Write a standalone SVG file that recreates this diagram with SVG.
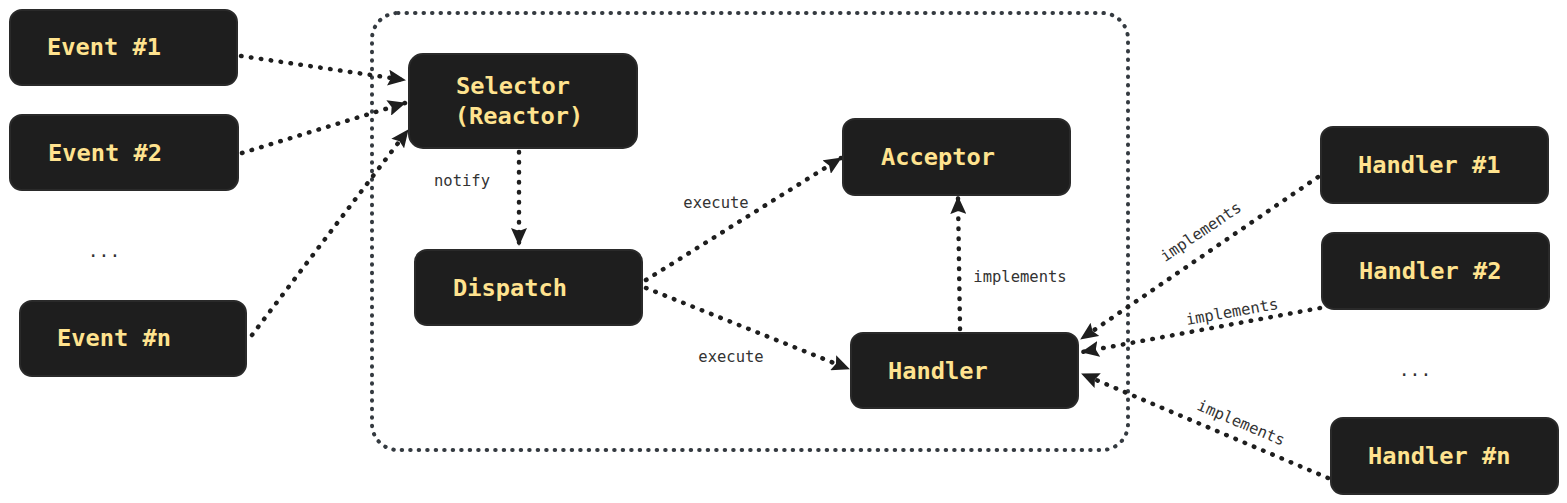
<svg xmlns="http://www.w3.org/2000/svg" width="1567" height="503" viewBox="0 0 1567 503">
<defs>
<style>
.node rect{fill:#1e1e1e;stroke:#2a2a2a;stroke-width:2}
.node text{font-family:"DejaVu Sans Mono","Liberation Mono",monospace;font-weight:bold;font-size:23.7px;fill:#ffe38f}
.conn path{fill:none;stroke:#1e1e1e;stroke-width:4.5;stroke-linecap:round;stroke-dasharray:0.5 9.5}
.lbl{font-family:"DejaVu Sans Mono","Liberation Mono",monospace;font-size:15.5px;fill:#333}
.dots{font-family:"DejaVu Sans Mono","Liberation Mono",monospace;font-size:18px;fill:#333}
</style>
<marker id="ah" viewBox="0 0 18 16" refX="17" refY="8" markerWidth="18" markerHeight="16" markerUnits="userSpaceOnUse" orient="auto">
<path d="M0,0 L18,8 L0,16 L3,8 Z" fill="#1e1e1e"/>
</marker>
</defs>
<rect width="1567" height="503" fill="#ffffff"/>
<g id="container">
<rect x="372" y="13" width="756" height="437" rx="26" fill="none" stroke="#343a40" stroke-width="4" stroke-linecap="round" stroke-dasharray="0.5 8"/>
</g>
<g class="conn" id="connectors">
<path d="M241,56 L405,80" marker-end="url(#ah)"/>
<path d="M242,153 L405,103" marker-end="url(#ah)"/>
<path d="M252,335 L408,130" marker-end="url(#ah)"/>
<path d="M519,152 L519,245" marker-end="url(#ah)"/>
<path d="M646,280 L841,158" marker-end="url(#ah)"/>
<path d="M646,288 L849,369" marker-end="url(#ah)"/>
<path d="M960,329 L958,197" marker-end="url(#ah)"/>
<path d="M1318,177 L1081,339" marker-end="url(#ah)"/>
<path d="M1320,308 L1082,352" marker-end="url(#ah)"/>
<path d="M1328,478 L1082,374" marker-end="url(#ah)"/>
</g>
<g id="labels">
<text class="lbl" x="462" y="186" text-anchor="middle">notify</text>
<text class="lbl" x="716" y="208" text-anchor="middle">execute</text>
<text class="lbl" x="731" y="362" text-anchor="middle">execute</text>
<text class="lbl" x="1020" y="282" text-anchor="middle">implements</text>
<text class="lbl" x="0" y="5" text-anchor="middle" transform="translate(1201,232) rotate(-34)">implements</text>
<text class="lbl" x="0" y="5" text-anchor="middle" transform="translate(1232,312) rotate(-10)">implements</text>
<text class="lbl" x="0" y="5" text-anchor="middle" transform="translate(1241,423) rotate(23)">implements</text>
<text class="dots" x="104" y="257" text-anchor="middle">...</text>
<text class="dots" x="1415" y="376" text-anchor="middle">...</text>
</g>
<g class="node" id="event1"><rect x="10" y="10" width="227" height="75" rx="12"/><text x="47" y="55">Event #1</text></g>
<g class="node" id="event2"><rect x="10" y="115" width="228" height="75" rx="12"/><text x="48" y="161">Event #2</text></g>
<g class="node" id="eventn"><rect x="20" y="301" width="226" height="75" rx="12"/><text x="57" y="346">Event #n</text></g>
<g class="node" id="selector"><rect x="409" y="54" width="228" height="94" rx="14"/><text x="513" y="94" text-anchor="middle">Selector</text><text x="519" y="124" text-anchor="middle">(Reactor)</text></g>
<g class="node" id="dispatch"><rect x="415" y="250" width="227" height="75" rx="12"/><text x="453" y="296">Dispatch</text></g>
<g class="node" id="acceptor"><rect x="843" y="119" width="227" height="76" rx="12"/><text x="881" y="165">Acceptor</text></g>
<g class="node" id="handler"><rect x="851" y="333" width="227" height="75" rx="12"/><text x="888" y="379">Handler</text></g>
<g class="node" id="handler1"><rect x="1321" y="127" width="227" height="76" rx="12"/><text x="1358" y="173">Handler #1</text></g>
<g class="node" id="handler2"><rect x="1322" y="233" width="227" height="76" rx="12"/><text x="1359" y="279">Handler #2</text></g>
<g class="node" id="handlern"><rect x="1331" y="418" width="227" height="76" rx="12"/><text x="1368" y="464">Handler #n</text></g>
</svg>
